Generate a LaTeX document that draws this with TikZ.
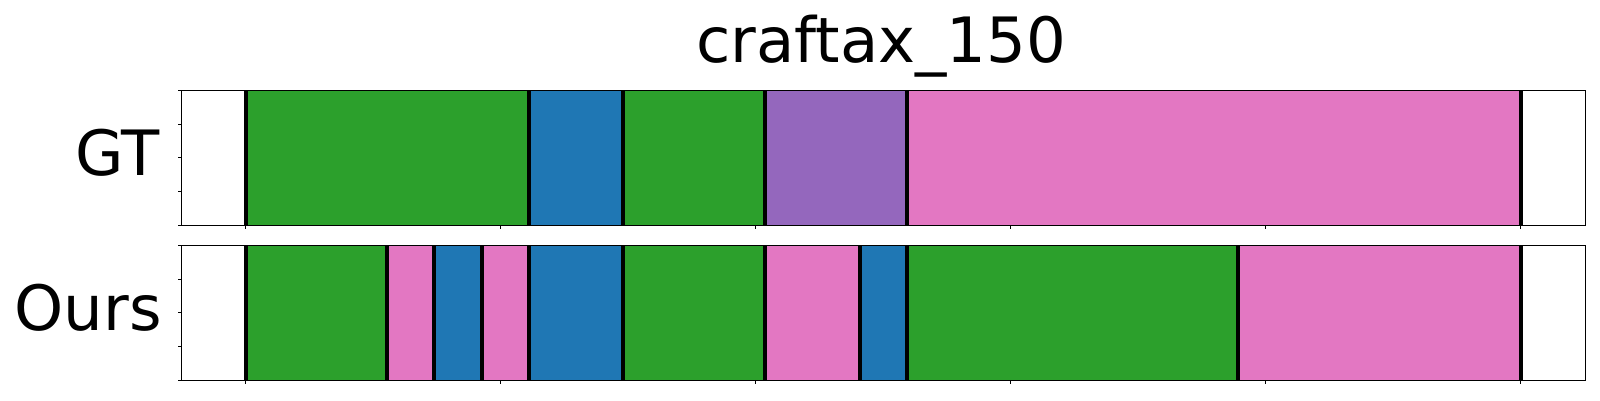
\documentclass[tikz,border=0pt]{standalone}
\usepackage{fontspec}
\setmainfont{DejaVu Sans}
\definecolor{tgreen}{HTML}{2CA02C}
\definecolor{tblue}{HTML}{1F77B4}
\definecolor{tpurple}{HTML}{9467BD}
\definecolor{tpink}{HTML}{E377C2}
\tikzset{
  frame/.style={draw=black, line width=1.1pt},
  bnd/.style={draw=black, line width=4pt},
  tickmark/.style={draw=black, line width=1pt},
  lbl/.style={inner sep=0pt, font=\fontsize{62.5}{70}\selectfont},
}
\begin{document}
\begin{tikzpicture}[x=1pt,y=-1pt]
\useasboundingbox (0,0) rectangle (1600,400);
\fill[white] (0,0) rectangle (1600,400);
% title
\node[lbl, anchor=base] (title) at (881,62) {craftax\_150};
% GT row
\foreach \a/\b/\c in {245.5/529/tgreen, 529/623/tblue, 623/765/tgreen, 765/907/tpurple, 907/1521/tpink}
  \fill[\c] (\a,90.3) rectangle (\b,225.3);
\foreach \x in {245.5,529,623,765,907,1521}
  \draw[bnd] (\x,90.3) -- (\x,225.3);
\draw[frame] (181.7,90.3) rectangle (1585.7,225.3);
\node[lbl, anchor=base east] (gt) at (160,175) {GT};
% Ours row
\foreach \a/\b/\c in {245.5/387/tgreen, 387/434/tpink, 434/482/tblue, 482/529/tpink, 529/623/tblue, 623/765/tgreen, 765/860/tpink, 860/907/tblue, 907/1238/tgreen, 1238/1521/tpink}
  \fill[\c] (\a,245.3) rectangle (\b,380.3);
\foreach \x in {245.5,387,434,482,529,623,765,860,907,1238,1521}
  \draw[bnd] (\x,245.3) -- (\x,380.3);
\draw[frame] (181.7,245.3) rectangle (1585.7,380.3);
\node[lbl, anchor=base east] (ours) at (162,330.5) {Ours};
% ticks
\foreach \k in {0,...,5} {
  \draw[tickmark] ({245.7+255*\k},225.3) -- ++(0,4);
  \draw[tickmark] ({245.7+255*\k},380.3) -- ++(0,4);
}
\foreach \k in {0,...,4} {
  \draw[tickmark] (181.7,{90.3+33.75*\k}) -- ++(-4,0);
  \draw[tickmark] (181.7,{245.3+33.75*\k}) -- ++(-4,0);
}
\end{tikzpicture}
\end{document}
